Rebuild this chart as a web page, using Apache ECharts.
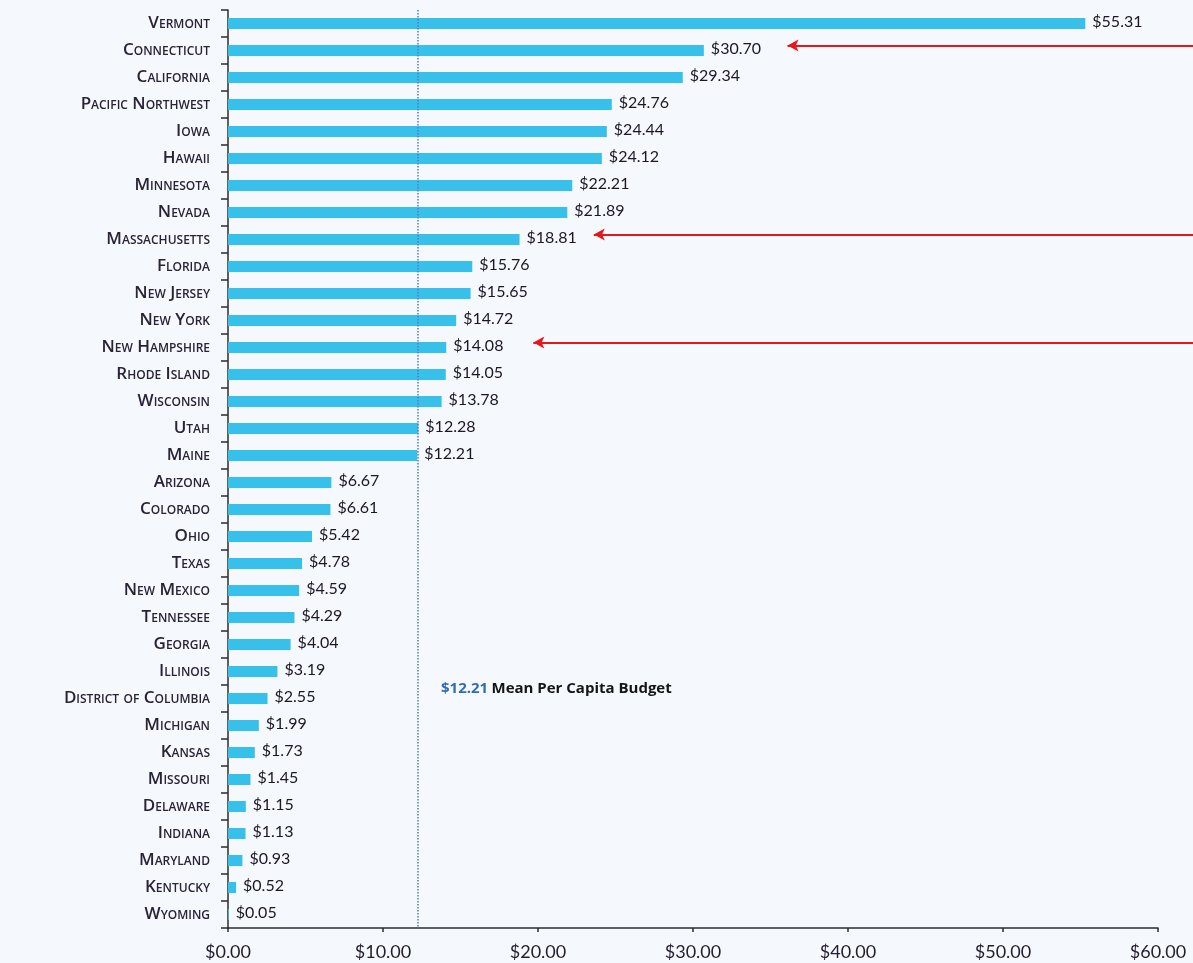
<!DOCTYPE html>
<html>
<head>
<meta charset="utf-8">
<script src="https://cdn.jsdelivr.net/npm/echarts@6/dist/echarts.min.js"></script>
<style>
html, body { margin: 0; padding: 0; background: #f5f9fd; }
#main { width: 1193px; height: 963px; }
</style>
</head>
<body>
<div id="main"></div>
<script>
// per capita budget by state, top to bottom as in the figure
var states = ['Vermont', 'Connecticut', 'California', 'Pacific Northwest', 'Iowa', 'Hawaii',
    'Minnesota', 'Nevada', 'Massachusetts', 'Florida', 'New Jersey', 'New York', 'New Hampshire',
    'Rhode Island', 'Wisconsin', 'Utah', 'Maine', 'Arizona', 'Colorado', 'Ohio', 'Texas',
    'New Mexico', 'Tennessee', 'Georgia', 'Illinois', 'District of Columbia', 'Michigan', 'Kansas',
    'Missouri', 'Delaware', 'Indiana', 'Maryland', 'Kentucky', 'Wyoming'];
var budgets = [55.31, 30.70, 29.34, 24.76, 24.44, 24.12, 22.21, 21.89, 18.81, 15.76, 15.65, 14.72,
    14.08, 14.05, 13.78, 12.28, 12.21, 6.67, 6.61, 5.42, 4.78, 4.59, 4.29, 4.04, 3.19, 2.55, 1.99,
    1.73, 1.45, 1.15, 1.13, 0.93, 0.52, 0.05];
var meanBudget = 12.21;
var xMin = 0, xMax = 60, xStep = 10;

// red arrows pointing at three of the labels
var arrowStates = ['Connecticut', 'Massachusetts', 'New Hampshire'];
var arrowTips = [36.1, 23.6, 19.7];
var arrowEnd = 62.26;   // right edge of the page in dollars

var chart = echarts.init(document.getElementById('main'));

function money(v) {
    return '$' + Number(v).toFixed(2);
}

chart.setOption({
    backgroundColor: '#f5f9fd',
    animation: false,
    grid: [
        {left: 228, right: 35, top: 10, bottom: 35, outerBoundsMode: 'none'},
        {left: 228, right: 0, top: 5, bottom: 40, outerBoundsMode: 'none'}   // arrows only
    ],
    xAxis: [
        {
            gridIndex: 0,
            type: 'value',
            min: xMin,
            max: xMax,
            interval: xStep,
            splitLine: {show: false},
            axisLine: {show: true, lineStyle: {color: '#2b2b2b', width: 1.5}},
            axisTick: {show: true, length: 4, lineStyle: {color: '#2b2b2b', width: 1.5}},
            axisLabel: {
                margin: 15,
                fontFamily: 'Lato',
                fontSize: 18,
                color: '#241c30',
                formatter: money
            }
        },
        {gridIndex: 1, type: 'value', min: 0, max: arrowEnd, show: false}
    ],
    yAxis: [
        {
            gridIndex: 0,
            type: 'category',
            inverse: true,
            data: states,
            axisLine: {show: true, lineStyle: {color: '#2b2b2b', width: 1.5}},
            axisTick: {show: true, length: 7, lineStyle: {color: '#2b2b2b', width: 1.5}},
            axisLabel: {
                margin: 18,
                fontFamily: 'Open Sans',
                fontStyle: 'small-caps',
                fontWeight: 600,
                fontSize: 17,
                color: '#2a2238'
            }
        },
        {gridIndex: 1, type: 'category', inverse: true, data: states, show: false}
    ],
    graphic: [{
        type: 'text',
        left: 441,
        top: 681,
        style: {
            text: '{a|$12.21} {b|Mean Per Capita Budget}',
            rich: {
                a: {fontFamily: 'Open Sans', fontWeight: 'bold', fontSize: 15, fill: '#2f6cb8'},
                b: {fontFamily: 'Open Sans', fontWeight: 'bold', fontSize: 15, fill: '#151515'}
            }
        }
    }],
    series: [
        {
            type: 'bar',
            xAxisIndex: 0,
            yAxisIndex: 0,
            data: budgets,
            barWidth: 11,
            itemStyle: {color: '#37c0ea'},
            label: {
                show: true,
                position: 'right',
                distance: 7,
                offset: [0, -2],
                fontFamily: 'Lato',
                fontSize: 16,
                color: '#1c1626',
                formatter: function (p) { return money(p.value); }
            },
            markLine: {
                silent: true,
                symbol: 'none',
                label: {show: false},
                lineStyle: {type: 'dotted', color: '#4f7dc4', width: 1.5},
                data: [{xAxis: meanBudget}]
            }
        },
        {
            type: 'line',
            xAxisIndex: 1,
            yAxisIndex: 1,
            data: [],
            markLine: {
                silent: true,
                symbol: ['arrow', 'none'],
                symbolSize: [9, 11],
                label: {show: false},
                lineStyle: {type: 'solid', color: '#e8151b', width: 2},
                data: arrowStates.map(function (s, i) {
                    return [{coord: [arrowTips[i], s]}, {coord: [arrowEnd, s]}];
                })
            }
        }
    ]
});
</script>
</body>
</html>
